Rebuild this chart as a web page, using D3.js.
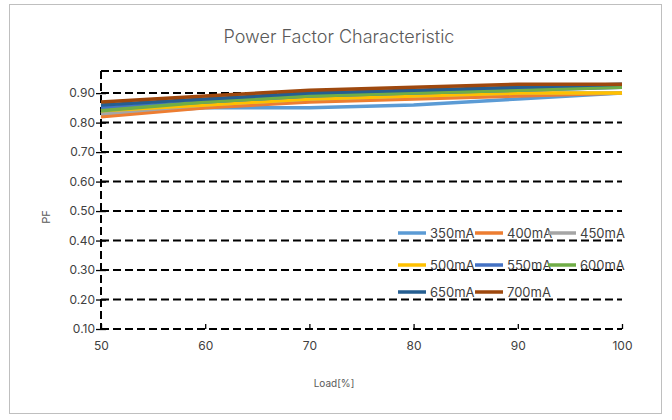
<!DOCTYPE html>
<html>
<head>
<meta charset="utf-8">
<script src="https://cdn.jsdelivr.net/npm/d3@7"></script>
<style>
  body { margin: 0; background: #fff; }
  text { font-family: Inter, "Noto Sans", sans-serif; }
</style>
</head>
<body>
<script>
/* ------------------------------- Chart data ------------------------------- */
const loads = [50, 60, 70, 80, 90, 100];
const seriesNames = ["350mA", "400mA", "450mA", "500mA", "550mA", "600mA", "650mA", "700mA"];
const pf350 = [0.83, 0.85, 0.85, 0.86, 0.88, 0.90];
const pf400 = [0.82, 0.85, 0.87, 0.88, 0.89, 0.90];
const pf450 = [0.83, 0.86, 0.88, 0.89, 0.90, 0.90];
const pf500 = [0.84, 0.86, 0.88, 0.89, 0.90, 0.90];
const pf550 = [0.85, 0.87, 0.89, 0.90, 0.91, 0.92];
const pf600 = [0.84, 0.87, 0.89, 0.90, 0.91, 0.92];
const pf650 = [0.86, 0.88, 0.90, 0.91, 0.92, 0.93];
const pf700 = [0.87, 0.89, 0.91, 0.92, 0.93, 0.93];
const yTicks = [0.1, 0.2, 0.3, 0.4, 0.5, 0.6, 0.7, 0.8, 0.9];
const colors = ["#5B9BD5", "#ED7D31", "#A5A5A5", "#FFC000", "#4472C4", "#70AD47", "#255E91", "#9E480E"];

const allSeries = [pf350, pf400, pf450, pf500, pf550, pf600, pf650, pf700];

/* ------------------------------- Layout ---------------------------------- */
const width = 672, height = 420;
const plotLeft = 101, plotRight = 622, plotTop = 71, plotBottom = 329;
const dash = "8,4";

const svg = d3.select("body").append("svg").attr("width", width).attr("height", height);

// outer chart border
svg.append("rect")
    .attr("x", 9.5).attr("y", 4.5)
    .attr("width", 652).attr("height", 409)
    .attr("fill", "#fff")
    .attr("stroke", "#bfbfbf");

svg.append("text")
    .attr("x", 339).attr("y", 43)
    .attr("text-anchor", "middle")
    .attr("font-size", "18px")
    .attr("font-weight", 300)
    .attr("fill", "#595959")
    .text("Power Factor Characteristic");

const x = d3.scaleLinear().domain([50, 100]).range([plotLeft, plotRight]);
const y = d3.scaleLinear().domain([0.1, 0.975]).range([plotBottom, plotTop]);

/* ------------------------------- Grid ------------------------------------ */
const grid = svg.append("g");
grid.selectAll("line.h")
    .data(yTicks.concat([0.975]))
    .enter().append("line")
    .attr("x1", plotLeft).attr("x2", plotRight)
    .attr("y1", d => y(d)).attr("y2", d => y(d))
    .attr("stroke", "#000")
    .attr("stroke-width", 2)
    .attr("stroke-dasharray", dash);

// left border (dashed)
grid.append("line")
    .attr("x1", plotLeft).attr("x2", plotLeft)
    .attr("y1", plotTop).attr("y2", plotBottom)
    .attr("stroke", "#000")
    .attr("stroke-width", 2)
    .attr("stroke-dasharray", dash);

/* ------------------------------- Axes ------------------------------------ */
const yAxis = svg.append("g")
    .attr("transform", `translate(${plotLeft},0)`)
    .call(d3.axisLeft(y).tickValues(yTicks).tickFormat(d3.format(".2f")).tickSize(5).tickPadding(3));
yAxis.select(".domain").remove();
yAxis.selectAll(".tick line").attr("x2", 5).attr("x1", -5).attr("stroke", "#000").attr("stroke-width", 1.3);
yAxis.selectAll(".tick text").attr("font-size", "12px").attr("fill", "#404040").attr("x", -6);

const xAxis = svg.append("g")
    .attr("transform", `translate(0,${plotBottom})`)
    .call(d3.axisBottom(x).tickValues(loads).tickSize(0).tickPadding(12));
xAxis.select(".domain").remove();
xAxis.selectAll(".tick line").attr("y1", -5).attr("y2", 0).attr("stroke", "#000").attr("stroke-width", 1.3);
xAxis.selectAll(".tick text").attr("font-size", "12px").attr("fill", "#404040");

svg.append("text")
    .attr("transform", "translate(50,217) rotate(-90)")
    .attr("text-anchor", "middle")
    .attr("font-size", "11px")
    .attr("fill", "#595959")
    .text("PF");

svg.append("text")
    .attr("x", 334).attr("y", 387)
    .attr("text-anchor", "middle")
    .attr("font-size", "10px")
    .attr("fill", "#595959")
    .text("Load[%]");

/* ------------------------------- Lines ----------------------------------- */
const line = d3.line()
    .x((d, i) => x(loads[i]))
    .y(d => y(d));

svg.append("g").selectAll("path")
    .data(allSeries)
    .enter().append("path")
    .attr("d", line)
    .attr("fill", "none")
    .attr("stroke", (d, i) => colors[i])
    .attr("stroke-width", 3.5)
    .attr("stroke-linejoin", "round");

/* ------------------------------- Legend ---------------------------------- */
const legX = [398, 475, 548];
const legY = [233, 265, 292];
const legend = svg.append("g").selectAll("g")
    .data(seriesNames)
    .enter().append("g")
    .attr("transform", (d, i) => `translate(${legX[i % 3]},${legY[Math.floor(i / 3)]})`);

legend.append("line")
    .attr("x1", 0).attr("x2", 28)
    .attr("stroke", (d, i) => colors[i])
    .attr("stroke-width", 3.5);

legend.append("text")
    .attr("x", 32).attr("y", 4.5)
    .attr("font-size", "13px")
    .attr("fill", "#404040")
    .text(d => d);
</script>
</body>
</html>
